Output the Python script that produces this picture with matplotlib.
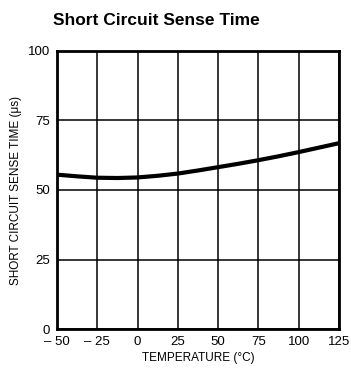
import matplotlib
matplotlib.use("Agg")
import matplotlib.pyplot as plt

plt.rcParams['font.family'] = ['Liberation Sans', 'DejaVu Sans']

# data
temperature = [-50, -37.5, -25, -12.5, 0, 12.5, 25, 37.5, 50, 62.5, 75, 87.5, 100, 112.5, 125]
sense_time = [55.5, 54.9, 54.4, 54.3, 54.5, 55.1, 55.9, 57.0, 58.2, 59.4, 60.7, 62.1, 63.6, 65.2, 66.8]

x_ticks = [-50, -25, 0, 25, 50, 75, 100, 125]
x_labels = ['– 50', '– 25', '0', '25', '50', '75', '100', '125']
y_ticks = [0, 25, 50, 75, 100]

fig = plt.figure(figsize=(3.51, 3.76), dpi=100)
ax = fig.add_axes([0.1624, 0.1242, 0.8034, 0.741])

ax.plot(temperature, sense_time, color='black', lw=3, solid_joinstyle='round',
        solid_capstyle='butt')

ax.set_xlim(-50, 125)
ax.set_ylim(0, 100)
ax.set_xticks(x_ticks)
ax.set_xticklabels(x_labels)
ax.set_yticks(y_ticks)
ax.tick_params(length=0, labelsize=9.5, pad=5)
ax.grid(True, color='black', lw=1.1)
for s in ax.spines.values():
    s.set_linewidth(2)

ax.set_xlabel('TEMPERATURE (°C)', fontsize=8.5, labelpad=3)
ax.set_ylabel('SHORT CIRCUIT SENSE TIME (μs)', fontsize=8.5, labelpad=4)

fig.text(0.152, 0.946, 'Short Circuit Sense Time', fontsize=12.5,
         fontweight='bold', ha='left', va='center')

fig.savefig('out.png', dpi=100)
